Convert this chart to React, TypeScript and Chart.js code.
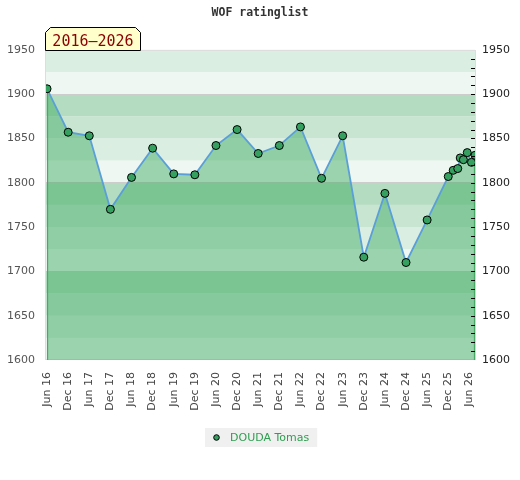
import { useEffect, useRef } from "react";
import { Chart, registerables } from "chart.js";

Chart.register(...registerables);

const chartTitle = "WOF ratinglist";
const periodLabel = "2016–2026";
const playerName = "DOUDA Tomas";

const tickLabels = [
  "Jun 16", "Dec 16", "Jun 17", "Dec 17", "Jun 18", "Dec 18", "Jun 19",
  "Dec 19", "Jun 20", "Dec 20", "Jun 21", "Dec 21", "Jun 22", "Dec 22",
  "Jun 23", "Dec 23", "Jun 24", "Dec 24", "Jun 25", "Dec 25", "Jun 26",
];

// months elapsed since Jun 2016
const monthsFromStart = [
  0, 6, 12, 18, 24, 30, 36, 42, 48, 54, 60, 66, 72, 78, 84, 90, 96, 102, 108,
  114, 115.4, 116.7, 117.4, 118.3, 119.4, 120.6, 121.6,
];

const ratings = [
  1906, 1857, 1853, 1770, 1806, 1839, 1810, 1809, 1842, 1860, 1833, 1842,
  1863, 1805, 1853, 1716, 1788, 1710, 1758, 1807, 1814, 1816, 1828, 1826,
  1834, 1823, 1831,
];

const yMin = 1600;
const yMax = 1950;
const yStep = 50;

const bandColors = ["#eef7f1", "#dbeee2", "#c7e5d1", "#b3dcc0"];

const decorPlugin = {
  id: "decor",
  beforeDraw(chart: any) {
    const { ctx, chartArea: a, scales } = chart;
    const y = scales.y;
    ctx.save();
    for (let v = y.min; v < y.max; v += 25) {
      const q = Math.floor((((v % 100) + 100) % 100) / 25);
      const top = y.getPixelForValue(v + 25);
      const bot = y.getPixelForValue(v);
      ctx.fillStyle = bandColors[q];
      ctx.fillRect(a.left, top, a.right - a.left, bot - top);
    }
    ctx.strokeStyle = "#dddddd";
    ctx.lineWidth = 1;
    ctx.strokeRect(
      Math.round(a.left) - 0.5,
      Math.round(a.top) + 0.5,
      Math.round(a.right - a.left) + 1,
      Math.round(a.bottom - a.top) - 1
    );
    ctx.restore();
  },
  beforeDatasetDraw(chart: any, args: any) {
    const { ctx, chartArea: a } = chart;
    const meta = chart.getDatasetMeta(args.index);
    const pts = meta.data;
    if (!pts.length) return;
    const first = pts[0];
    const last = pts[pts.length - 1];
    ctx.save();
    ctx.strokeStyle = "#4aa866";
    ctx.lineWidth = 1.2;
    ctx.beginPath();
    ctx.moveTo(first.x + 0.5, first.y);
    ctx.lineTo(first.x + 0.5, a.bottom);
    ctx.moveTo(last.x - 0.5, last.y);
    ctx.lineTo(last.x - 0.5, a.bottom);
    ctx.stroke();
    ctx.restore();
  },
  afterDraw(chart: any) {
    const { ctx, chartArea: a, scales } = chart;
    const y = scales.y;
    ctx.save();
    // minor ticks on the right edge
    ctx.strokeStyle = "#000";
    ctx.lineWidth = 1;
    ctx.beginPath();
    for (let v = y.min + 10; v < y.max; v += 10) {
      const py = Math.round(y.getPixelForValue(v)) + 0.5;
      ctx.moveTo(a.right - 4, py);
      ctx.lineTo(a.right, py);
    }
    ctx.stroke();

    // period label box
    const left = Math.round(a.left) - 0.5;
    const right = left + 95;
    const bottom = Math.round(a.top) + 0.5;
    const top = bottom - 23;
    const c = 5;
    ctx.beginPath();
    ctx.moveTo(left, bottom);
    ctx.lineTo(left, top + c);
    ctx.lineTo(left + c, top);
    ctx.lineTo(right - c, top);
    ctx.lineTo(right, top + c);
    ctx.lineTo(right, bottom);
    ctx.closePath();
    ctx.fillStyle = "#ffffcc";
    ctx.fill();
    ctx.strokeStyle = "#000";
    ctx.stroke();
    ctx.fillStyle = "#8b0000";
    ctx.font = '15px "DejaVu Sans Mono"';
    ctx.textAlign = "center";
    ctx.textBaseline = "alphabetic";
    ctx.fillText(periodLabel, (left + right) / 2, bottom - 5);

    // legend
    const ds = chart.data.datasets[0];
    ctx.font = '11px "DejaVu Sans"';
    const tw = ctx.measureText(ds.label).width;
    const w = 25 + tw + 8;
    const h = 19;
    const x0 = Math.round(chart.width / 2 - w / 2) + 1;
    const y0 = Math.round(a.bottom) + 68;
    ctx.fillStyle = "#f0f0f0";
    ctx.fillRect(x0, y0, w, h);
    ctx.beginPath();
    ctx.arc(x0 + 11.5, y0 + h / 2, 2.8, 0, Math.PI * 2);
    ctx.fillStyle = ds.pointBackgroundColor;
    ctx.fill();
    ctx.strokeStyle = "#000";
    ctx.stroke();
    ctx.fillStyle = "#2e9e50";
    ctx.textAlign = "left";
    ctx.textBaseline = "middle";
    ctx.fillText(ds.label, x0 + 25, y0 + h / 2 + 0.5);
    ctx.restore();
  },
};

export default function App() {
  const ref = useRef<HTMLCanvasElement | null>(null);

  useEffect(() => {
    document.body.style.margin = "0";
    const canvas = ref.current;
    if (!canvas) return;
    const tickFont = { family: '"DejaVu Sans"', size: 11 };
    const plain = (v: any) => String(v);
    const chart = new Chart(canvas, {
      type: "line",
      data: {
        datasets: [
          {
            label: playerName,
            data: monthsFromStart.map((m, i) => ({ x: m, y: ratings[i] })),
            borderColor: "#5b9fd8",
            borderWidth: 1.8,
            backgroundColor: "rgba(63,172,99,0.48)",
            fill: "start",
            tension: 0,
            pointRadius: 4,
            pointHoverRadius: 4,
            pointBorderWidth: 1,
            pointBorderColor: "#000000",
            pointBackgroundColor: "#35a05f",
          },
        ],
      },
      plugins: [decorPlugin],
      options: {
        responsive: false,
        animation: false,
        layout: { padding: { top: 0, left: 0, right: 0, bottom: 60 } },
        plugins: {
          legend: { display: false },
          tooltip: { enabled: false },
          title: {
            display: true,
            text: chartTitle,
            color: "#333333",
            font: { family: '"DejaVu Sans Mono"', size: 11.5, weight: "bold", lineHeight: 1.2 },
            padding: { top: 6, bottom: 30 },
          },
        },
        scales: {
          x: {
            type: "linear",
            min: -0.3,
            max: monthsFromStart[monthsFromStart.length - 1],
            grid: { display: false },
            border: { display: false },
            ticks: {
              stepSize: 6,
              includeBounds: false,
              autoSkip: false,
              maxRotation: 90,
              minRotation: 90,
              padding: 4,
              color: "#444444",
              font: tickFont,
              callback: (v: any) => {
                const n = Number(v);
                const idx = Math.round(n / 6);
                if (Math.abs(n - idx * 6) > 0.01) return "";
                return tickLabels[idx] ?? "";
              },
            },
            afterFit: (s: any) => {
              s.height = 60;
            },
          },
          y: {
            type: "linear",
            position: "left",
            min: yMin,
            max: yMax,
            border: { display: false },
            grid: {
              drawTicks: false,
              color: (c: any) => {
                const v = c.tick ? c.tick.value : NaN;
                return v % 100 === 0 && v !== yMin && v !== yMax ? "#cccccc" : "rgba(0,0,0,0)";
              },
            },
            ticks: { stepSize: yStep, padding: 11, color: "#555555", font: tickFont, callback: plain },
            afterFit: (s: any) => {
              s.width = 46;
            },
          },
          y2: {
            type: "linear",
            position: "right",
            min: yMin,
            max: yMax,
            border: { display: false },
            grid: { display: false, drawTicks: false },
            ticks: { stepSize: yStep, padding: 7, color: "#222222", font: tickFont, callback: plain },
            afterFit: (s: any) => {
              s.width = 45;
            },
          },
        },
      },
    } as any);
    return () => chart.destroy();
  }, []);

  return <canvas ref={ref} width={520} height={480} style={{ display: "block" }} />;
}
